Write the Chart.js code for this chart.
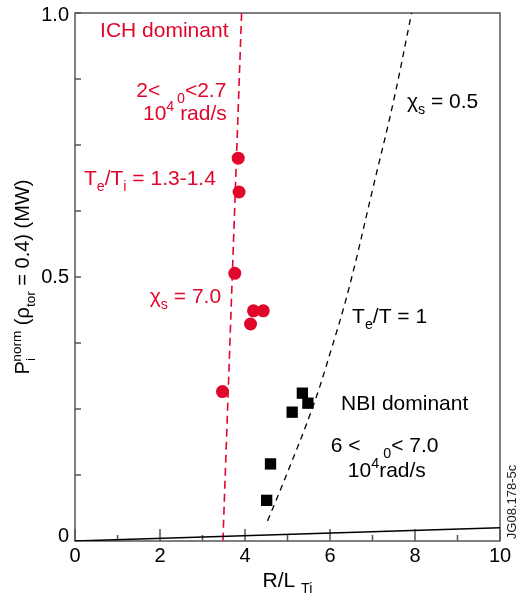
<!DOCTYPE html>
<html>
<head>
<meta charset="utf-8">
<script src="https://cdn.jsdelivr.net/npm/chart.js@4"></script>
<style>
  body { margin: 0; background: #fff; }
</style>
</head>
<body>
<canvas id="chart" width="516" height="601"></canvas>
<script>
// ---- data ----
const ichX = [3.84, 3.86, 3.76, 4.20, 4.43, 4.13, 3.47];
const ichY = [0.725, 0.661, 0.507, 0.436, 0.436, 0.411, 0.283];

const nbiX = [5.35, 5.48, 5.11, 4.60, 4.51];
const nbiY = [0.280, 0.261, 0.244, 0.146, 0.077];

// chi_s = 7.0 line (red dashed)
const ichFitX = [3.92, 3.48];
const ichFitY = [1.0, 0.0];

// chi_s = 0.5 curve (black dashed)
const nbiFitX = [4.53, 5.0, 5.6, 6.0, 6.45, 7.0, 7.5, 7.92];
const nbiFitY = [0.038, 0.13, 0.255, 0.355, 0.48, 0.665, 0.835, 1.0];

// solid line near the axis
const baseX = [0, 10];
const baseY = [0, 0.025];

const xTicks = [0, 1, 2, 3, 4, 5, 6, 7, 8, 9, 10];
const xTickLabels = ["0", "", "2", "", "4", "", "6", "", "8", "", "10"];
const yTicks = [0, 0.125, 0.25, 0.375, 0.5, 0.625, 0.75, 0.875, 1.0];
const yTickLabels = ["0", "", "", "", "0.5", "", "", "", "1.0"];

const RED = "#e1062c";
const FONT = '"Liberation Sans", Arial, sans-serif';

const pts = (xs, ys) => xs.map((x, i) => ({ x: x, y: ys[i] }));

// text notes, anchored in data units (left edge, baseline)
const notes = [
  { x: 0.59, y: 0.955, color: RED, parts: [{ t: "ICH dominant" }] },
  { x: 1.44, y: 0.841, color: RED, parts: [{ t: "2<" }, { gap: 0.8 }, { t: "0", sub: true }, { t: "<2.7" }] },
  { x: 1.60, y: 0.797, color: RED, parts: [{ t: "10" }, { t: "4", sup: true }, { t: " rad/s" }] },
  { x: 0.21, y: 0.674, color: RED, parts: [{ t: "T" }, { t: "e", sub: true }, { t: "/T" }, { t: "i", sub: true }, { t: " = 1.3-1.4" }] },
  { x: 1.76, y: 0.451, color: RED, parts: [{ t: "χ" }, { t: "s", sub: true }, { t: " = 7.0" }] },
  { x: 7.81, y: 0.820, color: "#000", parts: [{ t: "χ" }, { t: "s", sub: true }, { t: " = 0.5" }] },
  { x: 6.52, y: 0.413, color: "#000", parts: [{ t: "T" }, { t: "e", sub: true }, { t: "/T = 1" }] },
  { x: 6.26, y: 0.248, color: "#000", parts: [{ t: "NBI dominant" }] },
  { x: 6.02, y: 0.169, color: "#000", parts: [{ t: "6 < " }, { gap: 0.8 }, { t: "0", sub: true }, { t: "< 7.0" }] },
  { x: 6.42, y: 0.121, color: "#000", parts: [{ t: "10" }, { t: "4", sup: true }, { t: "rad/s" }] }
];

function richWidth(ctx, parts, size) {
  let w = 0;
  parts.forEach(p => {
    if (p.gap) { w += p.gap * size; return; }
    const s = (p.sub || p.sup) ? size * 0.68 : size;
    ctx.font = s + "px " + FONT;
    w += ctx.measureText(p.t).width;
  });
  return w;
}

function drawRich(ctx, parts, x, y, size) {
  let cx = x;
  parts.forEach(p => {
    if (p.gap) { cx += p.gap * size; return; }
    const s = (p.sub || p.sup) ? size * 0.68 : size;
    const dy = p.sub ? size * 0.28 : (p.sup ? -size * 0.42 : 0);
    ctx.font = s + "px " + FONT;
    ctx.fillText(p.t, cx, y + dy);
    cx += ctx.measureText(p.t).width;
  });
}

// ================= FRAME, TICKS, TEXT =================
const decor = {
  id: "decor",
  beforeDatasetsDraw(chart) {
    const ctx = chart.ctx;
    const a = chart.chartArea;
    const xs = chart.scales.x, ys = chart.scales.y;
    ctx.save();
    ctx.strokeStyle = "#555";
    ctx.lineWidth = 1.5;
    ctx.strokeRect(a.left, a.top, a.right - a.left, a.bottom - a.top);

    ctx.beginPath();
    xTicks.forEach((v, i) => {
      const px = xs.getPixelForValue(v);
      const len = xTickLabels[i] ? 12 : 6;
      ctx.moveTo(px, a.bottom);
      ctx.lineTo(px, a.bottom - len);
    });
    yTicks.forEach(v => {
      const py = ys.getPixelForValue(v);
      ctx.moveTo(a.left, py);
      ctx.lineTo(a.left + 6, py);
    });
    ctx.stroke();
    ctx.restore();
  },
  afterDatasetsDraw(chart) {
    const ctx = chart.ctx;
    const a = chart.chartArea;
    const xs = chart.scales.x, ys = chart.scales.y;
    ctx.save();
    ctx.fillStyle = "#000";
    ctx.font = "20px " + FONT;

    // tick labels
    ctx.textAlign = "center";
    ctx.textBaseline = "top";
    xTicks.forEach((v, i) => {
      if (xTickLabels[i]) ctx.fillText(xTickLabels[i], xs.getPixelForValue(v), a.bottom + 5);
    });
    ctx.textAlign = "right";
    ctx.textBaseline = "middle";
    yTicks.forEach((v, i) => {
      if (yTickLabels[i]) {
        const off = v === 0 ? -5 : (v === 1 ? 2 : 0);
        ctx.fillText(yTickLabels[i], a.left - 6, ys.getPixelForValue(v) + off);
      }
    });

    // axis titles
    ctx.textAlign = "left";
    ctx.textBaseline = "alphabetic";
    const xt = [{ t: "R/L " }, { t: "Ti", sub: true }];
    const xw = richWidth(ctx, xt, 21);
    drawRich(ctx, xt, (a.left + a.right) / 2 - xw / 2, 587, 21);

    const yt = [{ t: "P" }, { t: "i", sub: true }, { gap: -0.18 }, { t: "norm", sup: true }, { t: " (ρ" },
                { t: "tor", sub: true }, { t: " = 0.4) (MW)" }];
    const yw = richWidth(ctx, yt, 20);
    ctx.save();
    ctx.translate(29, (a.top + a.bottom) / 2);
    ctx.rotate(-Math.PI / 2);
    drawRich(ctx, yt, -yw / 2, 0, 20);
    ctx.restore();

    // notes
    notes.forEach(n => {
      ctx.fillStyle = n.color;
      drawRich(ctx, n.parts, xs.getPixelForValue(n.x), ys.getPixelForValue(n.y), 21);
    });

    // figure id
    ctx.fillStyle = "#222";
    ctx.font = "13px " + FONT;
    ctx.textAlign = "center";
    ctx.save();
    ctx.translate(516, 502);
    ctx.rotate(-Math.PI / 2);
    ctx.fillText("JG08.178-5c", 0, 0);
    ctx.restore();

    ctx.restore();
  }
};

new Chart(document.getElementById("chart"), {
  type: "scatter",
  data: {
    datasets: [
      {
        label: "base",
        data: pts(baseX, baseY),
        showLine: true,
        borderColor: "#000",
        borderWidth: 1.5,
        pointRadius: 0
      },
      {
        label: "ICH fit",
        data: pts(ichFitX, ichFitY),
        showLine: true,
        borderColor: RED,
        borderWidth: 1.6,
        borderDash: [8, 5],
        pointRadius: 0
      },
      {
        label: "NBI fit",
        data: pts(nbiFitX, nbiFitY),
        showLine: true,
        borderColor: "#000",
        borderWidth: 1.3,
        borderDash: [6, 5],
        tension: 0.4,
        pointRadius: 0
      },
      {
        label: "ICH dominant",
        data: pts(ichX, ichY),
        pointRadius: 6.5,
        pointBackgroundColor: RED,
        pointBorderColor: RED,
        pointBorderWidth: 0
      },
      {
        label: "NBI dominant",
        data: pts(nbiX, nbiY),
        pointStyle: "rect",
        pointRadius: 8,
        pointBackgroundColor: "#000",
        pointBorderColor: "#000",
        pointBorderWidth: 0
      }
    ]
  },
  options: {
    responsive: false,
    animation: false,
    layout: { padding: { left: 75, top: 13, right: 16, bottom: 60 } },
    plugins: {
      legend: { display: false },
      tooltip: { enabled: false }
    },
    scales: {
      x: { type: "linear", min: 0, max: 10, display: false },
      y: { type: "linear", min: 0, max: 1, display: false }
    }
  },
  plugins: [decor]
});
</script>
</body>
</html>
